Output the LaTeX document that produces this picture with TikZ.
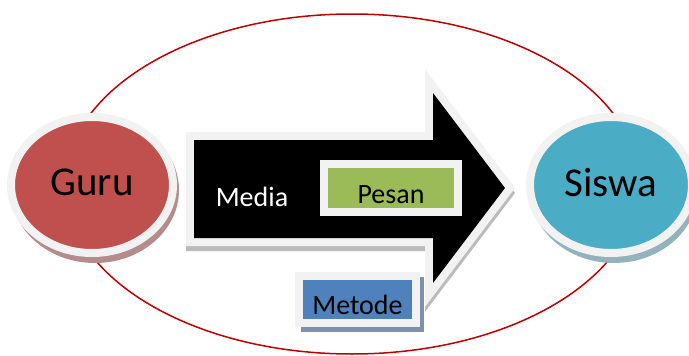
\documentclass[tikz,border=0pt]{standalone}
\usepackage{fontspec}
\setmainfont{Carlito}
\usetikzlibrary{shapes.geometric}

\definecolor{bordo}{HTML}{F2F2F2}
\definecolor{coloreguru}{HTML}{C0504D}
\definecolor{coloresiswa}{HTML}{4BACC6}
\definecolor{colorepesan}{HTML}{9BBB59}
\definecolor{coloremetode}{HTML}{4F81BD}
\definecolor{linearossa}{HTML}{C00000}
\definecolor{ombraguru}{HTML}{B48C8C}
\definecolor{ombrasiswa}{HTML}{93B2BC}
\definecolor{ombrapesan}{HTML}{4A5B27}
\definecolor{ombrametode}{HTML}{7D90AC}
\definecolor{ombrafreccia}{HTML}{BBBBBB}

\begin{document}
\begin{tikzpicture}[x=1pt, y=-1pt,
    cerchio/.style={ellipse, draw=bordo, line width=8pt, minimum width=162pt,
        minimum height=136pt, text depth=5pt, font=\fontsize{41}{41}\selectfont},
    riquadro/.style={rectangle, draw=bordo, line width=8pt, inner sep=0pt,
        text height=30pt, text depth=0pt, font=\fontsize{28}{28}\selectfont}]
        \useasboundingbox (0,0) rectangle (689,356);

        % Ellisse di collegamento
        \draw[linearossa, line width=1.5pt] (352,184) ellipse (287 and 170);

        % Ombre
        \fill[ombraguru] (95,190) ellipse (84 and 73);
        \fill[ombrasiswa] (614,190) ellipse (84 and 73);
        \fill[ombrapesan] (326,166) rectangle (466,222);
        \fill[ombrametode] (301,277) rectangle (424,332);
        \draw[ombrafreccia, fill=ombrafreccia, line width=16pt, shift={(0,5)}]
            (194,140) -- (433,140) -- (433,93) -- (505,188) -- (433,283)
            -- (433,238) -- (194,238) -- cycle;

        % Freccia (media)
        \draw[bordo, fill=black, line width=16pt]
            (194,140) -- (433,140) -- (433,93) -- (505,188) -- (433,283)
            -- (433,238) -- (194,238) -- cycle;
        \fill[black]
            (194,140) -- (433,140) -- (433,93) -- (505,188) -- (433,283)
            -- (433,238) -- (194,238) -- cycle;
        \node[white, font=\fontsize{28}{28}\selectfont] (media) at (252,197) {Media};

        % Guru e siswa
        \node[cerchio, fill=coloreguru] (guru) at (92,185) {Guru};
        \node[cerchio, fill=coloresiswa] (siswa) at (611,185) {Siswa};

        % Pesan e metode
        \node[riquadro, fill=colorepesan, minimum width=134pt, minimum height=48pt]
            (pesan) at (391,188) {Pesan};
        \node[riquadro, fill=coloremetode, minimum width=117pt, minimum height=47pt]
            (metode) at (357.5,299.5) {Metode};
    \end{tikzpicture}
\end{document}
